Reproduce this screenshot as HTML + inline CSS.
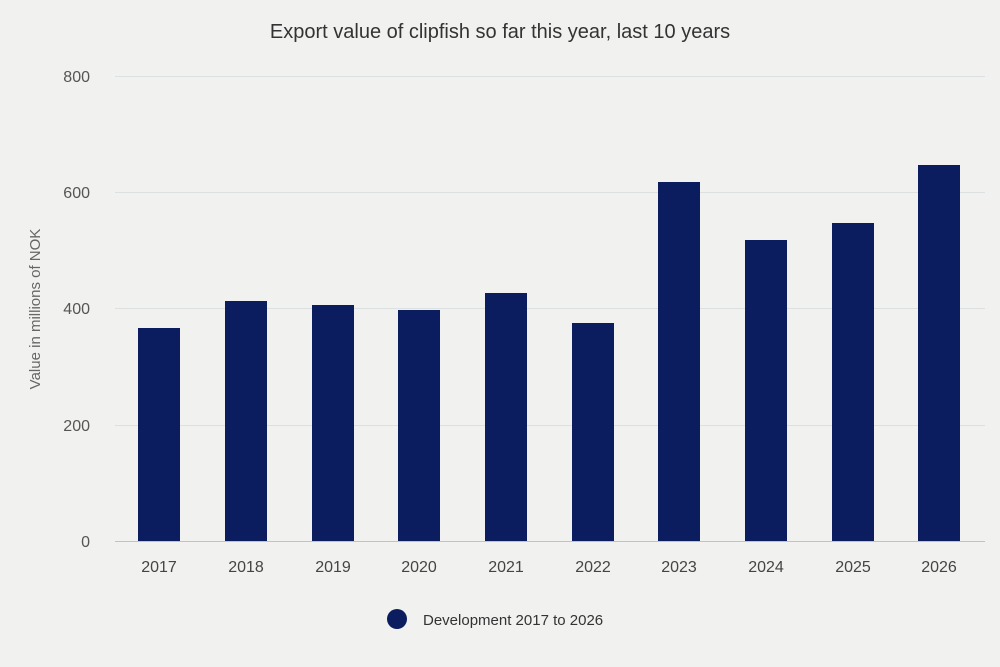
<!DOCTYPE html>
<html><head><meta charset="utf-8"><style>
html,body{margin:0;padding:0;background:#f1f2ef;}
svg{display:block;font-family:"Liberation Sans",sans-serif;}
</style></head><body>
<svg width="1000" height="667" viewBox="0 0 1000 667">
<rect width="1000" height="667" fill="#f1f2ef"/>
<text x="500" y="38" text-anchor="middle" font-size="20" fill="#333">Export value of clipfish so far this year, last 10 years</text>
<g stroke="#dde0e0" stroke-width="1">
<line x1="115" x2="985" y1="76.5" y2="76.5"/>
<line x1="115" x2="985" y1="192.5" y2="192.5"/>
<line x1="115" x2="985" y1="308.5" y2="308.5"/>
<line x1="115" x2="985" y1="425.5" y2="425.5"/>
</g>
<g font-size="16" fill="#555" text-anchor="end">
<text x="90" y="82">800</text>
<text x="90" y="198">600</text>
<text x="90" y="314">400</text>
<text x="90" y="431">200</text>
<text x="90" y="547">0</text>
</g>
<text transform="translate(40,309) rotate(-90)" text-anchor="middle" font-size="15" fill="#666">Value in millions of NOK</text>
<g fill="#0b1d5e">
<rect x="138" y="328" width="42" height="213"/>
<rect x="225" y="301" width="42" height="240"/>
<rect x="312" y="305" width="42" height="236"/>
<rect x="398" y="310" width="42" height="231"/>
<rect x="485" y="293" width="42" height="248"/>
<rect x="572" y="323" width="42" height="218"/>
<rect x="658" y="182" width="42" height="359"/>
<rect x="745" y="240" width="42" height="301"/>
<rect x="832" y="223" width="42" height="318"/>
<rect x="918" y="165" width="42" height="376"/>
</g>
<line x1="115" x2="985" y1="541.5" y2="541.5" stroke="#b8c4d6" stroke-width="1"/>
<g font-size="16" fill="#444" text-anchor="middle">
<text x="159" y="572">2017</text>
<text x="246" y="572">2018</text>
<text x="333" y="572">2019</text>
<text x="419" y="572">2020</text>
<text x="506" y="572">2021</text>
<text x="593" y="572">2022</text>
<text x="679" y="572">2023</text>
<text x="766" y="572">2024</text>
<text x="853" y="572">2025</text>
<text x="939" y="572">2026</text>
</g>
<circle cx="397" cy="619" r="10" fill="#0b1d5e"/>
<text x="423" y="625" font-size="15" fill="#333">Development 2017 to 2026</text>
</svg>
</body></html>
